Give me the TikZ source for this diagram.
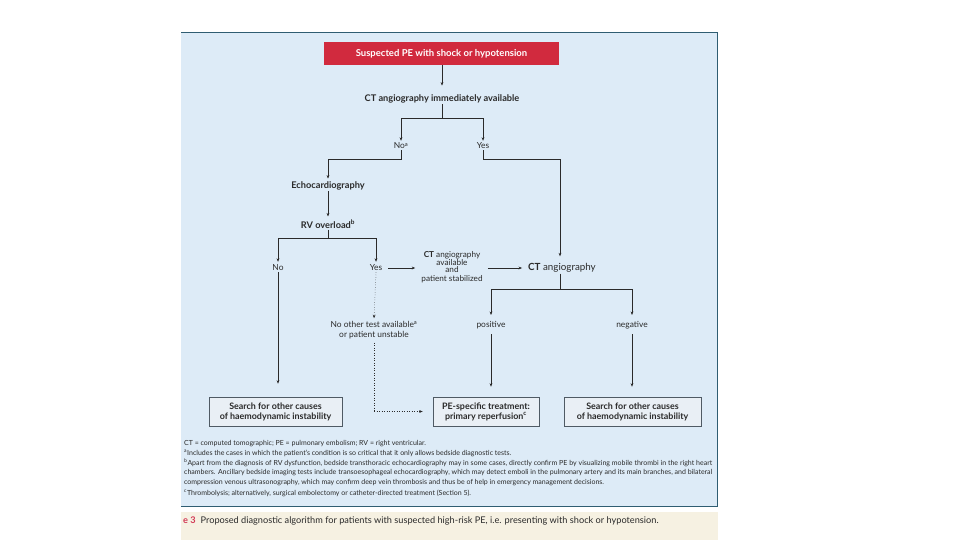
\documentclass[tikz,border=0pt]{standalone}
\usepackage{fontspec}
\setmainfont{Lato}
\usetikzlibrary{arrows.meta,calc}
\definecolor{panel}{HTML}{DDEBF7}
\definecolor{pborder}{HTML}{2F5D72}
\definecolor{redbox}{HTML}{D12A3E}
\definecolor{boxfill}{HTML}{E9EFF5}
\definecolor{boxline}{HTML}{4F5A64}
\definecolor{capbg}{HTML}{F6F1E2}
\definecolor{ink}{HTML}{2A2A2A}
\definecolor{capred}{HTML}{D23A56}
\begin{document}
\begin{tikzpicture}[x=1pt,y=-1pt,
 lbl/.style={font=\fontsize{9.2}{10}\selectfont\bfseries, text=ink, inner sep=1pt},
 sm/.style={font=\fontsize{8.4}{9.6}\selectfont, text=ink, inner sep=1pt, align=center},
 endbox/.style={draw=boxline, fill=boxfill, line width=0.6pt, minimum height=29pt, font=\fontsize{8.9}{10}\selectfont\bfseries, text=ink, align=center, inner sep=1pt},
 foot/.style={font=\fontsize{7}{8}\selectfont, text=ink, inner sep=0pt, anchor=west},
 conn/.style={draw=ink, line width=0.5pt},
 arr/.style={conn, -{Stealth[length=3.5pt,width=2.8pt]}},
 dotarr/.style={arr, dotted}]
\useasboundingbox (0,0) rectangle (960,540);
\fill[white] (0,0) rectangle (960,540);
% panel
\fill[panel] (181,32) rectangle (717,506);
\draw[pborder, line width=0.8pt] (181,32) -- (717,32) -- (717,506) -- (181,506);
\fill[capbg] (181,512) rectangle (718,540);

% nodes
\node[fill=redbox, minimum width=235pt, minimum height=23pt, inner sep=0pt,
      text=white, font=\fontsize{9.5}{10}\selectfont\bfseries] (start) at (441.5,53.5) {Suspected PE with shock or hypotension};
\node[lbl] (ct1) at (442,99) {CT angiography immediately available};
\node[sm] (no1) at (401,146) {No\textsuperscript{a}};
\node[sm] (yes1) at (483,146) {Yes};
\node[lbl] (echo) at (328,186) {Echocardiography};
\node[lbl] (rv) at (328,224) {RV overload\textsuperscript{b}};
\node[sm] (no2) at (278,268) {No};
\node[sm] (yes2) at (376,268) {Yes};
\node[sm, font=\fontsize{8.2}{8.6}\selectfont] (avail) at (452,267) {\textbf{CT} angiography\\ available\\[-1.5pt] and\\ patient stabilized};
\node[sm, font=\fontsize{9.8}{11}\selectfont] (cta2) at (562,268) {\textbf{CT} angiography};
\node[sm] (notest) at (374,330) {No other test available\textsuperscript{a}\\or patient unstable};
\node[sm] (pos) at (491,325) {positive};
\node[sm] (neg) at (632,325) {negative};
\node[endbox, minimum width=133pt] (box1) at (275.5,411.5) {Search for other causes\\of haemodynamic instability};
\node[endbox, minimum width=106pt] (box2) at (486,411.5) {PE-specific treatment:\\primary reperfusion\textsuperscript{c}};
\node[endbox, minimum width=137pt] (box3) at (632.5,411.5) {Search for other causes\\of haemodynamic instability};

% connectors
\draw[arr] (start.south -| ct1.north) -- ($(ct1.north)+(0,-8)$);
\coordinate (s1) at ($(ct1.south)+(0,14)$);
\draw[conn] (ct1.south) -- (s1);
\draw[arr] (s1) -| ($(no1.north)+(0,-1)$);
\draw[arr] (s1) -| ($(yes1.north)+(0,-1)$);
\draw[arr] (no1.south) |- ++(-73,9) -- ($(echo.north)+(0,-2)$);
\draw[arr] (yes1.south) |- ++(77,9) -- ($(cta2.north)+(-2,-6)$);
\draw[arr] (echo.south) -- ($(rv.north)+(0,-2)$);
\coordinate (s2) at ($(rv.south)+(0,9)$);
\draw[conn] (rv.south) -- (s2);
\draw[arr] (s2) -| ($(no2.north)+(0,-2)$);
\draw[arr] (s2) -| ($(yes2.north)+(0,-2)$);
\draw[arr] ($(yes2.east)+(5,0)$) -- ($(avail.west)+(-5,1)$);
\draw[arr] ($(avail.east)+(4,1)$) -- ($(cta2.west)+(-5,0)$);
\draw[dotarr] (yes2.south) -- ($(notest.north)+(0,-2)$);
\draw[dotted, conn] (notest.south) ++(0,3) coordinate (d0) -- (d0 |- box2.west) coordinate (d1);
\draw[dotarr, shorten >=10pt] (d1) -- (box2.west);
\coordinate (s3) at ($(cta2.south)+(-2,16)$);
\draw[conn] ($(cta2.south)+(-2,0)$) -- (s3);
\draw[arr] (s3) -| ($(pos.north)+(0,-5)$);
\draw[arr] (s3) -| ($(neg.north)+(0,-5)$);
\draw[arr, shorten >=13pt] (no2.south) -- (no2.south |- box1.north);
\draw[arr, shorten >=10pt] ($(pos.south)+(0,4)$) -- (pos.south |- box2.north);
\draw[arr, shorten >=10pt] ($(neg.south)+(0,4)$) -- (neg.south |- box3.north);

% footnotes
\node[foot] (f1) at (184,444) {CT = computed tomographic; PE = pulmonary embolism; RV = right ventricular.};
\node[foot] (f2) at (184,453) {\textsuperscript{a}Includes the cases in which the patient’s condition is so critical that it only allows bedside diagnostic tests.};
\node[foot] (f3) at (184,463) {\makebox[528pt][s]{\textsuperscript{b}Apart from the diagnosis of RV dysfunction, bedside transthoracic echocardiography may in some cases, directly confirm PE by visualizing mobile thrombi in the right heart}};
\node[foot] (f4) at (184,473) {\makebox[528pt][s]{chambers. Ancillary bedside imaging tests include transoesophageal echocardiography, which may detect emboli in the pulmonary artery and its main branches, and bilateral}};
\node[foot] (f5) at (184,483) {compression venous ultrasonography, which may confirm deep vein thrombosis and thus be of help in emergency management decisions.};
\node[foot] (f6) at (184,493) {\textsuperscript{c}Thrombolysis; alternatively, surgical embolectomy or catheter-directed treatment (Section 5).};

% caption
\node[anchor=west, inner sep=0pt, font=\fontsize{9.2}{10}\selectfont, text=ink] (cap) at (183,521)
  {\textcolor{capred}{\textbf{e 3}}\hspace{5pt}Proposed diagnostic algorithm for patients with suspected high-risk PE, i.e. presenting with shock or hypotension.};
\end{tikzpicture}
\end{document}
